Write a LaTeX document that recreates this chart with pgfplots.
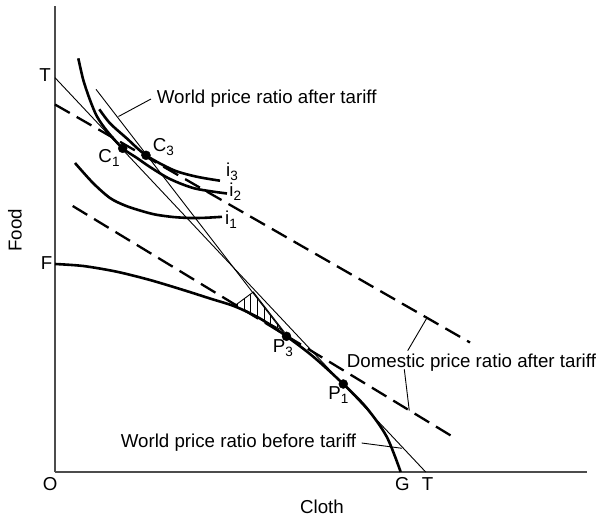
\documentclass[border=0pt]{standalone}
\usepackage{fontspec}
\setmainfont{Liberation Sans}
\usepackage{pgfplots}
\pgfplotsset{compat=1.18}
\usetikzlibrary{patterns.meta}
\newcommand{\sub}[1]{\raisebox{-4bp}{\fontsize{13.5bp}{13.5bp}\selectfont #1}}
\begin{document}
\begin{tikzpicture}[font=\fontsize{18.7bp}{22bp}\selectfont]
\path[use as bounding box] (-55bp,-44bp) rectangle (542bp,472bp);
\begin{axis}[
  x=1bp, y=1bp, xmin=0, xmax=532, ymin=0, ymax=466,
  axis lines=left, axis line style={-, draw=black!70, line width=1.2bp},
  xtick=\empty, ytick=\empty, clip=false,
  thickc/.style={black, line width=2.6bp, smooth, no markers},
  thinl/.style={black, line width=0.9bp, no markers},
  dashl/.style={black, line width=2.3bp, dash pattern=on 17bp off 8bp, no markers},
]
% domestic price ratio lines (dashed)
\addplot[dashl] coordinates {(0,367.5) (415,129.5)};
\addplot[dashl] coordinates {(17.7,266) (397.7,35.3)};
% hatched triangle
\addplot[thinl, pattern={Lines[angle=90,distance=6.6bp,line width=0.9bp]}] coordinates {(180,166.5) (198.3,180) (228.5,141) (205,153.8)} -- cycle;
% world price ratio lines (thin)
\addplot[thinl] coordinates {(0,394.3) (370.7,0)};
\addplot[thinl] coordinates {(41,382.7) (231.5,135.7)};
% leader lines
\addplot[thinl] coordinates {(63.5,355.5) (96,373)};
\addplot[thinl] coordinates {(371.7,153.7) (352.7,121.3)};
\addplot[thinl] coordinates {(349.3,102.7) (354.3,61.3)};
\addplot[thinl] coordinates {(306.7,29) (347,23.7)};
% production possibility frontier
\addplot[thickc] coordinates {(0,208) (28.3,206) (61.7,200.3) (95,192) (128.3,182) (155,173.5) (180,165.5) (205,153.5) (231.5,135.7) (258.3,115.3) (288.3,88) (311.7,64) (331.7,35.3) (345.7,0)};
% indifference curves
\addplot[thickc] coordinates {(20,309) (38,289) (55,274) (70,266.5) (85,261.5) (100,257.5) (118,255) (135,254) (150,254.2) (167,255.2)};
\addplot[thickc] coordinates {(23.3,413.7) (28.3,392) (35,372) (42,355.5) (52,341) (67.7,323.7) (82,314) (95,305) (115,293) (140,283.5) (172,278.5)};
\addplot[thickc] coordinates {(44.3,362.7) (55,348.7) (71.7,333.7) (91,316.7) (118.3,302) (141.7,295.3) (165,291.3)};
% points
\addplot[only marks, mark=*, mark size=4.5bp, black] coordinates {(67.7,323.7) (91,316.7) (231.5,135.7) (288.3,88)};
% labels
\node[anchor=base west, inner sep=0] at (axis cs:43.3,309.3) {C\sub{1}};
\node[anchor=base west, inner sep=0] at (axis cs:97.7,320.3) {C\sub{3}};
\node[anchor=base west, inner sep=0] at (axis cs:217.7,119.3) {P\sub{3}};
\node[anchor=base west, inner sep=0] at (axis cs:273.3,72.7) {P\sub{1}};
\node[anchor=base west, inner sep=0] at (axis cs:171,295.3) {i\sub{3}};
\node[anchor=base west, inner sep=0] at (axis cs:174.3,275.3) {i\sub{2}};
\node[anchor=base west, inner sep=0] at (axis cs:170,248) {i\sub{1}};
\node[anchor=base west, inner sep=0] at (axis cs:101.7,368.7) {World price ratio after tariff};
\node[anchor=base west, inner sep=0] at (axis cs:291.7,104.7) {Domestic price ratio after tariff};
\node[anchor=base west, inner sep=0] at (axis cs:65.7,24.7) {World price ratio before tariff};
\node[anchor=base west, inner sep=0] at (axis cs:-15.7,390.3) {T};
\node[anchor=base west, inner sep=0] at (axis cs:-14.3,202.7) {F};
\node[anchor=base west, inner sep=0] at (axis cs:-12.3,-18) {O};
\node[anchor=base west, inner sep=0] at (axis cs:340,-18) {G};
\node[anchor=base west, inner sep=0] at (axis cs:366.7,-18) {T};
\node[anchor=base west, inner sep=0] at (axis cs:245,-41.3) {Cloth};
\node[rotate=90, anchor=center, inner sep=0] at (axis cs:-40,241.5) {Food};
\end{axis}
\end{tikzpicture}
\end{document}
